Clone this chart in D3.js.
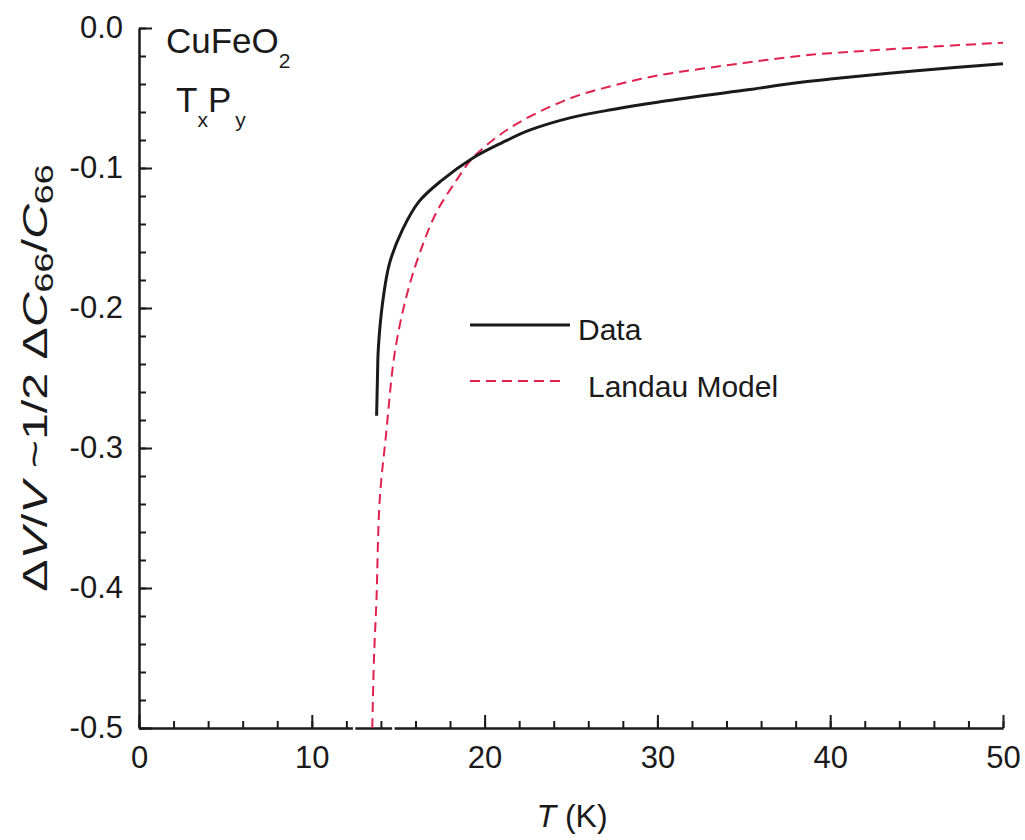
<!DOCTYPE html>
<html>
<head>
<meta charset="utf-8">
<script src="https://cdn.jsdelivr.net/npm/d3@7"></script>
<style>
  html, body { margin: 0; padding: 0; background: #fff; }
  svg { display: block; font-family: "Liberation Sans", Arial, Helvetica, sans-serif; }
</style>
</head>
<body>
<svg id="chart" width="1025" height="840"></svg>
<script>
// Measured curve: temperature (K) and relative volume change
const dataT = [13.75, 13.8, 13.85, 14.1, 14.5, 15.25, 16.2, 17.5, 19.3, 21.0, 22.6, 25, 27.5, 30, 35, 38.2, 40, 45, 50];
const dataV = [-0.277, -0.25, -0.229, -0.196, -0.168, -0.144, -0.124, -0.109, -0.093, -0.082, -0.073, -0.064, -0.058, -0.053, -0.0445, -0.039, -0.0365, -0.0305, -0.0255];

// Landau model curve
const modelT = [13.5, 13.6, 13.74, 13.93, 14.3, 14.8, 15.47, 16.24, 17.2, 18.36, 19.3, 20.7, 22.2, 25, 27.5, 30, 35, 38.2, 40, 45, 50];
const modelV = [-0.5, -0.45, -0.409, -0.337, -0.29, -0.232, -0.192, -0.161, -0.132, -0.109, -0.093, -0.078, -0.066, -0.050, -0.041, -0.034, -0.025, -0.020, -0.018, -0.014, -0.0105];

// Axis ticks
const xMajorTicks = [0, 10, 20, 30, 40, 50];
const xMinorTicks = d3.range(0, 50.01, 2);
const yMajorTicks = [0, -0.1, -0.2, -0.3, -0.4, -0.5];
const yMinorTicks = d3.range(0, 26).map(i => -i * 0.02);

const svg = d3.select("#chart");
const x = d3.scaleLinear().domain([0, 50]).range([139, 1003]);
const y = d3.scaleLinear().domain([-0.5, 0]).range([728, 28]);

const ink = "#1a1a1a";
const red = "#e0214e";

// ---- axes ----
function styleAxis(g) {
  g.select(".domain").attr("stroke", ink).attr("stroke-width", 2);
  g.selectAll(".tick line").attr("stroke", ink).attr("stroke-width", 2);
  g.selectAll(".tick text").attr("fill", ink).style("font-size", "31px")
    .style("font-family", "'Liberation Sans', Arial, sans-serif");
}

// minor ticks first, majors on top
svg.append("g").attr("transform", "translate(0,728)")
  .call(d3.axisBottom(x).tickValues(xMinorTicks).tickSizeInner(-7).tickSizeOuter(0).tickFormat(""))
  .call(styleAxis);
svg.append("g").attr("transform", "translate(0,728)")
  .call(d3.axisBottom(x).tickValues(xMajorTicks).tickSizeInner(-13).tickSizeOuter(0).tickPadding(18).tickFormat(d3.format("d")))
  .call(styleAxis);

svg.append("g").attr("transform", "translate(139,0)")
  .call(d3.axisLeft(y).tickValues(yMinorTicks).tickSizeInner(-7).tickSizeOuter(0).tickFormat(""))
  .call(styleAxis);
svg.append("g").attr("transform", "translate(139,0)")
  .call(d3.axisLeft(y).tickValues(yMajorTicks).tickSizeInner(-13).tickSizeOuter(0).tickPadding(16).tickFormat(d3.format(".1f")))
  .call(styleAxis)
  .call(g => g.selectAll(".tick text").text(d => d3.format(".1f")(d).replace("\u2212", "-")));

// small breaks in the bottom axis line around the transition
[12.45, 14.72].forEach(t => {
  svg.append("rect").attr("x", x(t) - 1.2).attr("y", 725).attr("width", 2.4).attr("height", 7).attr("fill", "#fff");
});

// ---- curves ----
const line = d3.line().x(d => x(d[0])).y(d => y(d[1])).curve(d3.curveCatmullRom.alpha(0.5));

svg.append("path")
  .datum(modelT.map((t, i) => [t, modelV[i]]))
  .attr("d", line).attr("fill", "none")
  .attr("stroke", red).attr("stroke-width", 2).attr("stroke-dasharray", "10,6");

svg.append("path")
  .datum(dataT.map((t, i) => [t, dataV[i]]))
  .attr("d", line).attr("fill", "none")
  .attr("stroke", ink).attr("stroke-width", 3);

// ---- legend ----
const legend = svg.append("g").style("font-size", "30px").attr("fill", ink);
legend.append("line").attr("x1", 470).attr("x2", 570).attr("y1", 325).attr("y2", 325)
  .attr("stroke", ink).attr("stroke-width", 3);
legend.append("text").attr("x", 578).attr("y", 340).text("Data");
legend.append("line").attr("x1", 470).attr("x2", 560).attr("y1", 381).attr("y2", 381)
  .attr("stroke", red).attr("stroke-width", 1.8).attr("stroke-dasharray", "10,6");
legend.append("text").attr("x", 588).attr("y", 397).text("Landau Model");

// ---- sample annotation ----
const ann = svg.append("g").attr("fill", ink);
const t1 = ann.append("text").attr("x", 166).attr("y", 53).style("font-size", "35px");
t1.append("tspan").text("CuFeO");
t1.append("tspan").attr("dy", 15).style("font-size", "21px").text("2");
const t2 = ann.append("text").attr("x", 176).attr("y", 112).style("font-size", "35px");
t2.append("tspan").text("T");
t2.append("tspan").attr("dy", 15).style("font-size", "21px").text("x");
t2.append("tspan").attr("dy", -15).text("P");
t2.append("tspan").attr("dy", 15).attr("dx", 4).style("font-size", "21px").text("y");

// ---- axis titles ----
const xt = svg.append("text").attr("x", 572).attr("y", 827).attr("text-anchor", "middle")
  .attr("fill", ink).style("font-size", "32px");
xt.append("tspan").style("font-style", "italic").text("T");
xt.append("tspan").text(" (K)");

const yt = svg.append("text").attr("transform", "translate(47,378) rotate(-90) scale(1.38,1)")
  .attr("text-anchor", "middle").attr("fill", ink).style("font-size", "35px");
yt.append("tspan").text("\u0394");
yt.append("tspan").style("font-style", "italic").text("V");
yt.append("tspan").text("/");
yt.append("tspan").style("font-style", "italic").text("V");
yt.append("tspan").text(" ~1/2 \u0394");
yt.append("tspan").style("font-style", "italic").text("C");
yt.append("tspan").attr("dy", 6).style("font-size", "26px").text("66");
yt.append("tspan").attr("dy", -6).text("/");
yt.append("tspan").style("font-style", "italic").text("C");
yt.append("tspan").attr("dy", 6).style("font-size", "26px").text("66");
</script>
</body>
</html>
